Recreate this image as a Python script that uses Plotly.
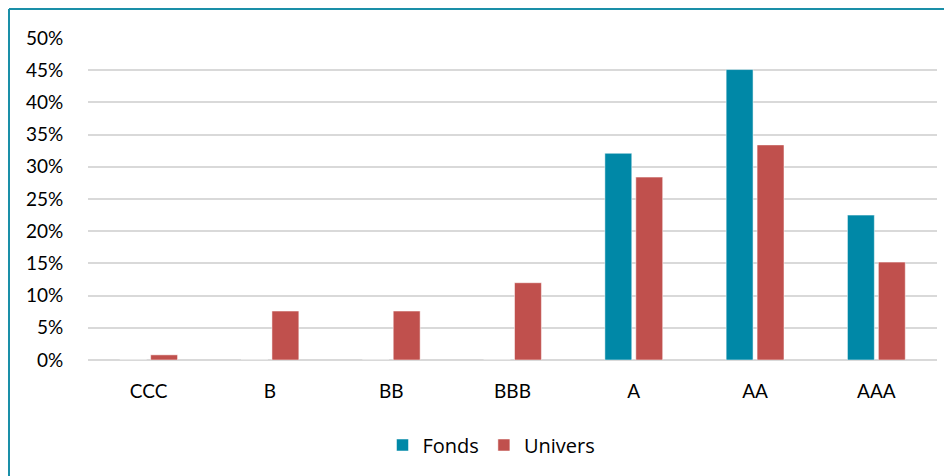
import plotly.graph_objects as go

categories = ["CCC", "B", "BB", "BBB", "A", "AA", "AAA"]
fonds = [0, 0, 0, 0, 32.1, 45.1, 22.5]
univers = [0.8, 7.6, 7.6, 12.0, 28.4, 33.4, 15.2]
y_ticks = [0, 5, 10, 15, 20, 25, 30, 35, 40, 45, 50]

# page has an 8px body margin, so the figure starts at (8, 8)
W, H = 944, 468
ml, mr, mt, mb = 80, 15, 30, 116
pw, ph = W - ml - mr, H - mt - mb

FONT = "Lato"
fig = go.Figure()
fig.add_trace(go.Bar(name="Fonds", x=categories, y=fonds,
                     marker=dict(color="#0088A7", line=dict(color="rgba(255,255,255,0.5)", width=1))))
fig.add_trace(go.Bar(name="Univers", x=categories, y=univers,
                     marker=dict(color="#C0504D", line=dict(color="rgba(255,255,255,0.5)", width=1))))

bx = (1 - ml) / pw
by_top = 1 + (mt - 1) / ph
fig.add_shape(type="line", xref="paper", yref="paper", x0=bx, x1=bx, y0=-1, y1=by_top,
              line=dict(color="#1A8FA8", width=2))
fig.add_shape(type="line", xref="paper", yref="paper", x0=bx, x1=1.2, y0=by_top, y1=by_top,
              line=dict(color="#1A8FA8", width=2))

fig.update_layout(
    width=W, height=H,
    margin=dict(l=ml, r=mr, t=mt, b=mb),
    paper_bgcolor="white", plot_bgcolor="white",
    barmode="group", bargap=0.49, bargroupgap=0.13,
    font=dict(family=FONT, size=19, color="#000000"),
    showlegend=True,
    legend=dict(orientation="h", x=0.5 - 21 / pw, xanchor="center", y=-(445 - 360) / ph, yanchor="middle",
                font=dict(family="Open Sans", size=20, color="#000000"), traceorder="normal"),
    xaxis=dict(showgrid=False, showline=False, zeroline=False, ticks="outside", ticklen=14,
               tickcolor="rgba(0,0,0,0)", tickfont=dict(family=FONT, size=19)),
    yaxis=dict(range=[0, 50], tickvals=y_ticks, ticktext=[f"{v}%" for v in y_ticks],
               showgrid=True, gridcolor="#D9D9D9", gridwidth=1.5, zeroline=True, zerolinecolor="#D9D9D9",
               zerolinewidth=1.5, showline=False, ticks="outside", ticklen=20, tickcolor="rgba(0,0,0,0)",
               tickfont=dict(family=FONT, size=19)),
)
fig.write_html("out.html")
